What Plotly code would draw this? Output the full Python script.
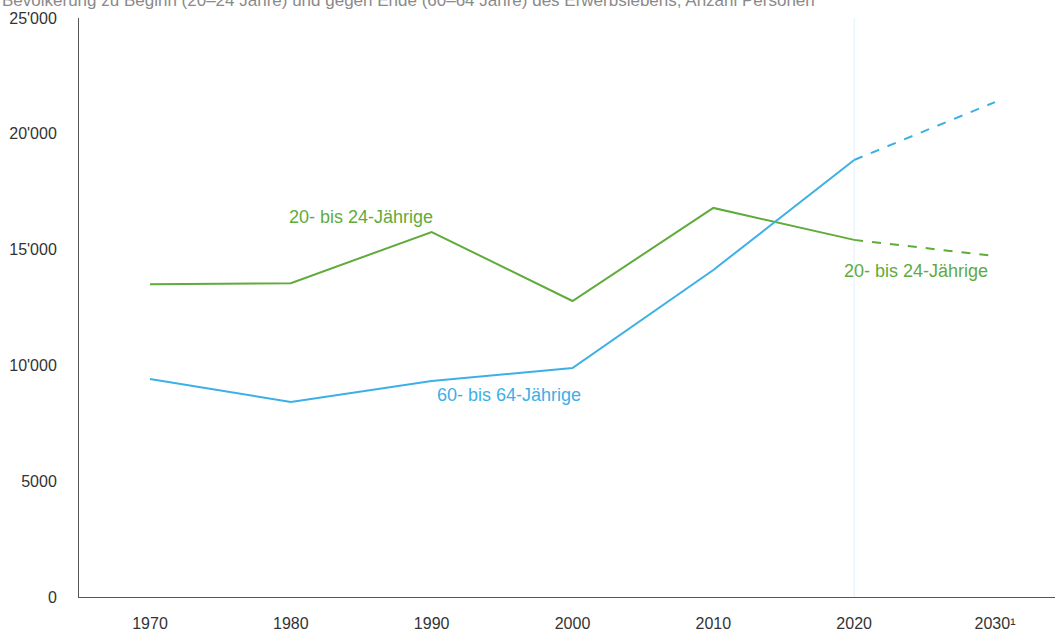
import plotly.graph_objects as go

years = [1970, 1980, 1990, 2000, 2010, 2020, 2030]
tick_labels = ["1970", "1980", "1990", "2000", "2010", "2020", "2030¹"]
young = [13500, 13550, 15760, 12780, 16800, 15420, 14720]   # 20- bis 24-Jährige
old = [9410, 8420, 9330, 9890, 14120, 18870, 21370]        # 60- bis 64-Jährige
y_ticks = [0, 5000, 10000, 15000, 20000, 25000]
y_tick_labels = ["0", "5000", "10'000", "15'000", "20'000", "25'000"]

GREEN = "#5fab3b"
BLUE = "#3cb0e6"
FONT = "Liberation Sans"

fig = go.Figure()
fig.add_trace(go.Scatter(x=years[:6], y=young[:6], mode="lines",
                         line=dict(color=GREEN, width=2), hoverinfo="skip"))
fig.add_trace(go.Scatter(x=years[:6], y=old[:6], mode="lines",
                         line=dict(color=BLUE, width=2), hoverinfo="skip"))
fig.add_trace(go.Scatter(x=years[5:], y=young[5:], mode="lines",
                         line=dict(color=GREEN, width=2, dash="dash"), hoverinfo="skip"))
fig.add_trace(go.Scatter(x=years[5:], y=old[5:], mode="lines",
                         line=dict(color=BLUE, width=2, dash="dash"), hoverinfo="skip"))

fig.add_shape(type="line", x0=2020, x1=2020, y0=0, y1=1, xref="x", yref="paper",
              line=dict(color="#e2f1f8", width=1), layer="below")

fig.add_annotation(x=1985.0, y=16410, xref="x", yref="y", text="20- bis 24-Jährige",
                   showarrow=False, font=dict(family=FONT, size=18, color=GREEN))
fig.add_annotation(x=2024.4, y=14080, xref="x", yref="y", text="20- bis 24-Jährige",
                   showarrow=False, font=dict(family=FONT, size=18, color=GREEN))
fig.add_annotation(x=1995.5, y=8720, xref="x", yref="y", text="60- bis 64-Jährige",
                   showarrow=False, font=dict(family=FONT, size=18, color=BLUE))

fig.add_annotation(x=0, y=1, xref="paper", yref="paper", xanchor="left", yanchor="middle",
                   xshift=-79, yshift=18,
                   text="Bevölkerung zu Beginn (20–24 Jahre) und gegen Ende (60–64 Jahre) des Erwerbslebens, Anzahl Personen",
                   showarrow=False, font=dict(family=FONT, size=17, color="#8a8a8a"))

fig.update_layout(
    width=1055, height=632,
    margin=dict(l=79, r=0, t=18, b=35),
    paper_bgcolor="white", plot_bgcolor="white",
    showlegend=False,
    font=dict(family=FONT, size=16, color="#333333"),
    xaxis=dict(range=[1964.96, 2034.26], tickmode="array", tickvals=years,
               ticktext=tick_labels, showgrid=False, zeroline=False,
               showline=True, linecolor="#555555", linewidth=1,
               ticks="", ticklabelstandoff=12, automargin=False,
               tickfont=dict(family=FONT, size=16, color="#333333")),
    yaxis=dict(range=[0, 25000], tickmode="array", tickvals=y_ticks,
               ticktext=y_tick_labels, showgrid=False, zeroline=False,
               showline=True, linecolor="#555555", linewidth=1,
               ticks="", ticklabelstandoff=18, automargin=False,
               tickfont=dict(family=FONT, size=16, color="#333333")),
)

fig.write_html("out.html", config={"displayModeBar": False},
               post_script="document.body.style.margin='0';document.body.style.overflow='hidden';")
